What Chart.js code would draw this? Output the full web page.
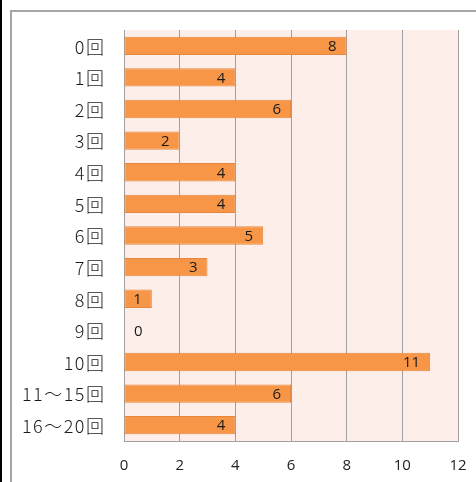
<!DOCTYPE html>
<html>
<head>
<meta charset="utf-8">
<script src="https://cdn.jsdelivr.net/npm/chart.js@4/dist/chart.umd.min.js"></script>
<style>
    body { margin: 0; background: #fff; }
    #wrap { position: relative; width: 476px; height: 482px; }
</style>
</head>
<body>
<div id="wrap"><canvas id="grafico"></canvas></div>
<script>
const categorias = ['0回', '1回', '2回', '3回', '4回', '5回', '6回', '7回', '8回', '9回', '10回', '11～15回', '16～20回'];
const valores = [8, 4, 6, 2, 4, 4, 5, 3, 1, 0, 11, 6, 4];
const eixoMax = 12;
const eixoPasso = 2;

// frame lines and the pink plot background
const moldura = {
    id: 'moldura',
    beforeDraw(chart) {
        const ctx = chart.ctx;
        const a = chart.chartArea;
        ctx.save();
        ctx.fillStyle = '#000';
        ctx.fillRect(0, 0, 2, chart.height);
        ctx.fillStyle = '#a6a6a6';
        ctx.fillRect(10, 10, 2, chart.height - 10);
        ctx.fillRect(10, 10, chart.width - 10, 2);
        ctx.fillStyle = '#fdeee9';
        ctx.fillRect(a.left, a.top, a.right - a.left, a.bottom - a.top);
        ctx.restore();
    }
};

// value labels at the inside end of each bar
const rotulos = {
    id: 'rotulos',
    afterDatasetsDraw(chart) {
        const ctx = chart.ctx;
        const meta = chart.getDatasetMeta(0);
        ctx.save();
        ctx.font = '15px "Open Sans", "Noto Sans", sans-serif';
        ctx.fillStyle = '#1a1a1a';
        ctx.textBaseline = 'middle';
        meta.data.forEach((bar, i) => {
            const v = valores[i];
            if (v === 0) {
                ctx.textAlign = 'left';
                ctx.fillText(String(v), bar.x + 10, bar.y + 1);
            } else {
                ctx.textAlign = 'right';
                ctx.fillText(String(v), bar.x - 10, bar.y + 1);
            }
        });
        ctx.restore();
    }
};

// category labels, drawn with wider letter spacing
const categoriasEixo = {
    id: 'categoriasEixo',
    afterDraw(chart) {
        const ctx = chart.ctx;
        const y = chart.scales.y;
        ctx.save();
        ctx.font = '300 18px "Noto Sans CJK JP", sans-serif';
        ctx.letterSpacing = '1.5px';
        ctx.fillStyle = '#1a1a1a';
        ctx.textAlign = 'right';
        ctx.textBaseline = 'middle';
        categorias.forEach((c, i) => {
            ctx.fillText(c, y.right - 18.5, y.getPixelForTick(i) + 1);
        });
        ctx.restore();
    }
};

document.addEventListener('DOMContentLoaded', () => {
    const ctx = document.getElementById('grafico').getContext('2d');
    new Chart(ctx, {
        type: 'bar',
        data: {
            labels: categorias,
            datasets: [{
                data: valores,
                backgroundColor: '#f79646',
                borderColor: '#e5873f',
                borderWidth: 1,
                borderSkipped: false,
                categoryPercentage: 1,
                barPercentage: 0.58
            }]
        },
        options: {
            indexAxis: 'y',
            responsive: true,
            maintainAspectRatio: false,
            animation: false,
            layout: { padding: { left: 0, top: 30, right: 18, bottom: 0 } },
            plugins: {
                legend: { display: false },
                tooltip: { enabled: false }
            },
            scales: {
                x: {
                    min: 0,
                    max: eixoMax,
                    ticks: {
                        stepSize: eixoPasso,
                        padding: 16,
                        color: '#222',
                        font: { family: '"Open Sans", "Noto Sans", sans-serif', size: 15 }
                    },
                    grid: { color: '#a0a0a0', drawTicks: false, lineWidth: 1 },
                    border: { display: true, color: '#a0a0a0' },
                    afterFit(scale) {
                        scale.height = 41;
                        scale.paddingLeft = 0;
                        scale.paddingRight = 0;
                    }
                },
                y: {
                    ticks: { display: false },
                    grid: { display: false },
                    border: { display: false },
                    afterFit(scale) { scale.width = 124; }
                }
            }
        },
        plugins: [moldura, rotulos, categoriasEixo]
    });
});
</script>
</body>
</html>
